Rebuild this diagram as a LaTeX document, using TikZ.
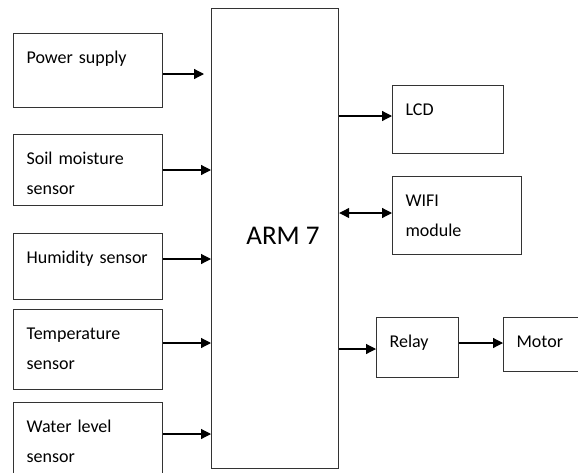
\documentclass[tikz,border=0pt]{standalone}
\usepackage{fontspec}
\setmainfont{Carlito}
\usetikzlibrary{arrows.meta}

\tikzset{
  blk/.style={draw=black!80, line width=1.2pt, anchor=north west, align=left,
    inner xsep=13pt, inner ysep=0pt, text height=30pt,
    font=\fontsize{18}{30}\selectfont},
  sig/.style={draw=black, line width=1.2pt, -{Triangle[length=10pt, width=10pt]}},
  bisig/.style={draw=black, line width=1.2pt,
    {Triangle[length=10pt, width=10pt]}-{Triangle[length=10pt, width=10pt]}}
}

\begin{document}
\begin{tikzpicture}[x=1pt, y=-1pt]
    \useasboundingbox[fill=white] (0,0) rectangle (578,472);

    % Controller
    \node[draw=black!80, line width=1.2pt, anchor=north west, minimum width=127pt,
          minimum height=460pt, inner sep=0pt] (arm) at (211,8) {};
    \node[font=\fontsize{27}{30}\selectfont] (armtxt) at (283,236) {ARM 7};

    % Inputs
    \node[blk, text width=123pt, text depth=44pt] (pwr)   at (13,33)  {Power supply};
    \node[blk, text width=123pt, text depth=41pt] (soil)  at (13,134) {Soil moisture\\sensor};
    \node[blk, text width=123pt, text depth=36pt] (hum)   at (13,233) {Humidity sensor};
    \node[blk, text width=123pt, text depth=50pt] (temp)  at (13,309) {Temperature\\sensor};
    \node[blk, text width=123pt, text depth=60pt] (water) at (13,402) {Water level\\sensor};

    % Outputs
    \node[blk, text width=85pt, text depth=38pt]  (lcd)   at (392,85)  {LCD};
    \node[blk, text width=103pt, text depth=48pt] (wifi)  at (392,176) {WIFI\\module};
    \node[blk, text width=56pt, text depth=30pt]  (relay) at (376,317) {Relay};
    \node[blk, text width=80pt, text depth=24pt]  (motor) at (503,317) {Motor};

    % Connections into the controller
    \draw[sig] (pwr.east |- 0,74) -- (204,74);
    \draw[sig] (soil.east |- 0,170) -- (arm.west |- 0,170);
    \draw[sig] (hum.east |- 0,259) -- (arm.west |- 0,259);
    \draw[sig] (temp.east |- 0,343) -- (arm.west |- 0,343);
    \draw[sig] (water.east |- 0,434) -- (arm.west |- 0,434);

    % Connections out of the controller
    \draw[sig] (arm.east |- 0,116) -- (lcd.west |- 0,116);
    \draw[bisig] (arm.east |- 0,213) -- (wifi.west |- 0,213);
    \draw[sig] (arm.east |- 0,349) -- (relay.west |- 0,349);
    \draw[sig] (relay.east |- 0,343) -- (motor.west |- 0,343);
\end{tikzpicture}
\end{document}
